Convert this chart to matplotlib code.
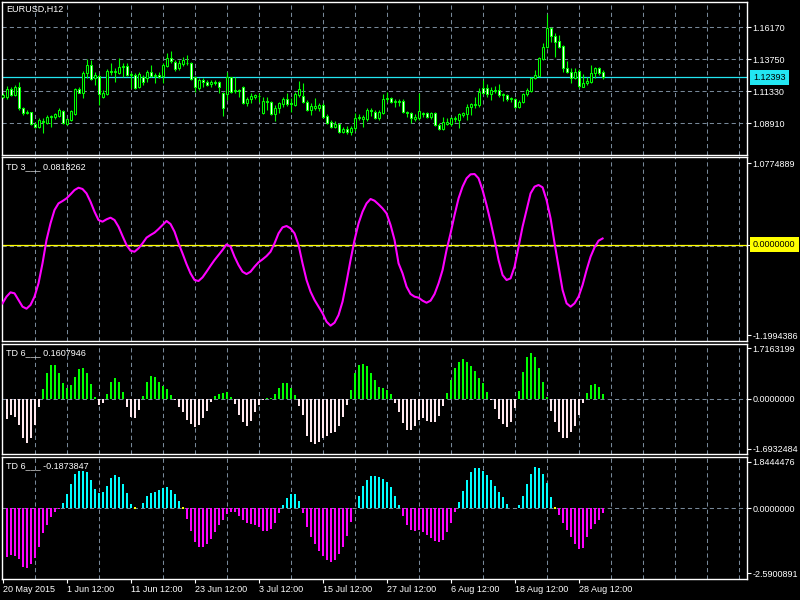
import numpy as np
import matplotlib
matplotlib.use('Agg')
import matplotlib.pyplot as plt

plt.rcParams['font.family'] = ['Liberation Sans', 'DejaVu Sans']

# ---------------- data ----------------
symbol_label = "EURUSD,H12"
td3_label = "TD 3___ 0.0818262"
td6a_label = "TD 6___ 0.1607946"
td6b_label = "TD 6___ -0.1873847"

open_ = np.array([
    1.1093, 1.1093, 1.1148, 1.1105, 1.1163, 1.1005, 1.0967, 1.0974, 1.0884, 1.0861,
    1.0911, 1.0896, 1.0936, 1.0942, 1.0947, 1.0984, 1.0886, 1.0916, 1.0959, 1.1148,
    1.1123, 1.1269, 1.1332, 1.1231, 1.1249, 1.1088, 1.1110, 1.1287, 1.1282, 1.1274,
    1.1314, 1.1325, 1.1257, 1.1254, 1.1163, 1.1239, 1.1231, 1.1282, 1.1249, 1.1257,
    1.1249, 1.1327, 1.1383, 1.1357, 1.1307, 1.1337, 1.1350, 1.1345, 1.1239, 1.1156,
    1.1219, 1.1206, 1.1186, 1.1206, 1.1206, 1.1118, 1.1113, 1.1239, 1.1138, 1.1143,
    1.1168, 1.1047, 1.1075, 1.1093, 1.1100, 1.0967, 1.1060, 1.1050, 1.0959, 1.1005,
    1.1037, 1.1075, 1.1042, 1.1030, 1.1105, 1.1098, 1.1055, 1.0992, 1.1005, 1.1005,
    1.1030, 1.0947, 1.0901, 1.0866, 1.0889, 1.0828, 1.0846, 1.0823, 1.0853, 1.0929,
    1.0921, 1.0921, 1.0992, 1.0979, 1.0934, 1.0972, 1.1073, 1.1080, 1.1055, 1.1060,
    1.1060, 1.0979, 1.0967, 1.0926, 1.0929, 1.0962, 1.0972, 1.0936, 1.0967, 1.0879,
    1.0851, 1.0886, 1.0886, 1.0924, 1.0916, 1.0954, 1.0959, 1.1012, 1.1030, 1.1030,
    1.1156, 1.1156, 1.1113, 1.1138, 1.1143, 1.1103, 1.1105, 1.1075, 1.1075, 1.1017,
    1.1050, 1.1110, 1.1138, 1.1231, 1.1249, 1.1375, 1.1466, 1.1614, 1.1551, 1.1514,
    1.1476, 1.1307, 1.1282, 1.1236, 1.1287, 1.1168, 1.1194, 1.1206, 1.1269, 1.1312,
    1.1282])

high = np.array([
    1.1118, 1.1173, 1.1163, 1.1181, 1.1206, 1.1017, 1.0992, 1.0979, 1.0904, 1.0929,
    1.0929, 1.0954, 1.0954, 1.0972, 1.1005, 1.0992, 1.0929, 1.0992, 1.1156, 1.1163,
    1.1287, 1.1375, 1.1370, 1.1282, 1.1264, 1.1143, 1.1299, 1.1350, 1.1307, 1.1383,
    1.1345, 1.1345, 1.1282, 1.1269, 1.1282, 1.1257, 1.1294, 1.1332, 1.1269, 1.1282,
    1.1345, 1.1420, 1.1438, 1.1370, 1.1370, 1.1395, 1.1408, 1.1352, 1.1249, 1.1231,
    1.1231, 1.1219, 1.1219, 1.1219, 1.1214, 1.1131, 1.1282, 1.1244, 1.1239, 1.1151,
    1.1173, 1.1088, 1.1118, 1.1110, 1.1118, 1.1093, 1.1088, 1.1060, 1.1030, 1.1055,
    1.1093, 1.1118, 1.1080, 1.1131, 1.1211, 1.1194, 1.1068, 1.1047, 1.1085, 1.1042,
    1.1042, 1.0962, 1.0916, 1.0911, 1.0896, 1.0866, 1.0871, 1.0871, 1.0967, 1.0959,
    1.0954, 1.1005, 1.1010, 1.0992, 1.0992, 1.1110, 1.1125, 1.1093, 1.1075, 1.1075,
    1.1075, 1.0984, 1.0979, 1.0959, 1.1118, 1.0979, 1.0979, 1.0979, 1.0979, 1.0891,
    1.0936, 1.0929, 1.0942, 1.0947, 1.0972, 1.0979, 1.1037, 1.1047, 1.1088, 1.1156,
    1.1219, 1.1186, 1.1163, 1.1173, 1.1188, 1.1118, 1.1110, 1.1088, 1.1085, 1.1068,
    1.1123, 1.1156, 1.1244, 1.1294, 1.1390, 1.1501, 1.1718, 1.1622, 1.1572, 1.1559,
    1.1483, 1.1362, 1.1307, 1.1307, 1.1299, 1.1264, 1.1244, 1.1332, 1.1320, 1.1320,
    1.1294])

low = np.array([
    1.1080, 1.1073, 1.1098, 1.1098, 1.0992, 1.0954, 1.0962, 1.0879, 1.0858, 1.0853,
    1.0816, 1.0886, 1.0861, 1.0921, 1.0936, 1.0886, 1.0879, 1.0911, 1.0954, 1.1118,
    1.1080, 1.1231, 1.1219, 1.1181, 1.1030, 1.1080, 1.1105, 1.1257, 1.1206, 1.1264,
    1.1244, 1.1249, 1.1156, 1.1148, 1.1156, 1.1181, 1.1206, 1.1244, 1.1194, 1.1231,
    1.1194, 1.1320, 1.1345, 1.1289, 1.1294, 1.1327, 1.1332, 1.1219, 1.1131, 1.1143,
    1.1163, 1.1176, 1.1163, 1.1181, 1.1123, 1.0949, 1.1068, 1.1118, 1.1118, 1.1093,
    1.1037, 1.1022, 1.1042, 1.1073, 1.1055, 1.0962, 1.0992, 1.0954, 1.0911, 1.0967,
    1.1012, 1.1022, 1.0977, 1.1022, 1.1093, 1.1042, 1.0984, 1.0954, 1.0992, 1.0987,
    1.0929, 1.0886, 1.0853, 1.0853, 1.0816, 1.0816, 1.0810, 1.0803, 1.0836, 1.0916,
    1.0866, 1.0911, 1.0947, 1.0921, 1.0916, 1.0962, 1.1055, 1.1042, 1.1017, 1.1022,
    1.0972, 1.0936, 1.0891, 1.0911, 1.0916, 1.0942, 1.0929, 1.0921, 1.0871, 1.0841,
    1.0841, 1.0879, 1.0871, 1.0904, 1.0853, 1.0942, 1.0916, 1.0954, 1.1005, 1.1017,
    1.1113, 1.1093, 1.1068, 1.1118, 1.1093, 1.1062, 1.1060, 1.1050, 1.1010, 1.1005,
    1.1042, 1.1098, 1.1131, 1.1224, 1.1239, 1.1370, 1.1458, 1.1509, 1.1390, 1.1458,
    1.1282, 1.1269, 1.1199, 1.1226, 1.1156, 1.1163, 1.1181, 1.1199, 1.1231, 1.1257,
    1.1224])

close = np.array([
    1.1105, 1.1148, 1.1105, 1.1163, 1.1005, 1.0967, 1.0977, 1.0884, 1.0866, 1.0916,
    1.0901, 1.0942, 1.0947, 1.0959, 1.0992, 1.0891, 1.0921, 1.0987, 1.1148, 1.1123,
    1.1269, 1.1332, 1.1224, 1.1254, 1.1110, 1.1118, 1.1287, 1.1277, 1.1287, 1.1320,
    1.1325, 1.1257, 1.1264, 1.1161, 1.1264, 1.1206, 1.1282, 1.1249, 1.1257, 1.1239,
    1.1332, 1.1383, 1.1362, 1.1302, 1.1350, 1.1370, 1.1345, 1.1226, 1.1163, 1.1219,
    1.1201, 1.1181, 1.1206, 1.1199, 1.1168, 1.1005, 1.1239, 1.1131, 1.1143, 1.1138,
    1.1047, 1.1075, 1.1100, 1.1103, 1.1098, 1.1060, 1.1052, 1.0959, 1.1005, 1.1042,
    1.1075, 1.1037, 1.1037, 1.1110, 1.1148, 1.1055, 1.0992, 1.1022, 1.1022, 1.1030,
    1.0942, 1.0896, 1.0866, 1.0886, 1.0823, 1.0846, 1.0823, 1.0858, 1.0929, 1.0942,
    1.0942, 1.0992, 1.0984, 1.0929, 1.0979, 1.1073, 1.1080, 1.1055, 1.1060, 1.1055,
    1.0979, 1.0967, 1.0929, 1.0942, 1.0984, 1.0967, 1.0936, 1.0972, 1.0876, 1.0848,
    1.0899, 1.0899, 1.0929, 1.0929, 1.0959, 1.0967, 1.1017, 1.1037, 1.1037, 1.1131,
    1.1123, 1.1113, 1.1143, 1.1143, 1.1105, 1.1110, 1.1075, 1.1080, 1.1017, 1.1050,
    1.1110, 1.1143, 1.1231, 1.1257, 1.1383, 1.1471, 1.1609, 1.1551, 1.1509, 1.1471,
    1.1307, 1.1277, 1.1236, 1.1282, 1.1173, 1.1199, 1.1214, 1.1274, 1.1307, 1.1274,
    1.12393])

price_ticks = [1.08910, 1.11330, 1.13750, 1.16170]
last_price = 1.12393

td3 = np.array([
    -0.775, -0.687, -0.630, -0.643, -0.731, -0.819, -0.846, -0.797, -0.687, -0.511,
    -0.247, 0.062, 0.282, 0.458, 0.546, 0.577, 0.612, 0.665, 0.722, 0.753,
    0.736, 0.678, 0.568, 0.436, 0.326, 0.304, 0.335, 0.357, 0.326, 0.238,
    0.115, -0.004, -0.079, -0.093, -0.048, 0.018, 0.093, 0.128, 0.159, 0.207,
    0.260, 0.313, 0.273, 0.172, 0.018, -0.115, -0.256, -0.379, -0.467, -0.480,
    -0.432, -0.357, -0.278, -0.203, -0.137, -0.070, 0.004, -0.026, -0.159, -0.269,
    -0.357, -0.388, -0.357, -0.291, -0.233, -0.194, -0.150, -0.093, 0.018, 0.150,
    0.229, 0.247, 0.216, 0.150, -0.004, -0.247, -0.467, -0.621, -0.731, -0.819,
    -0.907, -1.018, -1.070, -1.031, -0.930, -0.753, -0.489, -0.203, 0.062, 0.282,
    0.436, 0.546, 0.604, 0.581, 0.533, 0.480, 0.414, 0.260, 0.062, -0.247,
    -0.379, -0.555, -0.652, -0.687, -0.700, -0.740, -0.767, -0.740, -0.652, -0.511,
    -0.335, -0.070, 0.150, 0.392, 0.612, 0.767, 0.877, 0.930, 0.934, 0.877,
    0.722, 0.524, 0.304, 0.062, -0.203, -0.401, -0.467, -0.445, -0.291, -0.026,
    0.238, 0.458, 0.678, 0.767, 0.789, 0.758, 0.590, 0.348, 0.018, -0.291,
    -0.599, -0.775, -0.819, -0.775, -0.687, -0.533, -0.335, -0.159, -0.035, 0.053,
    0.0818262])
td3_ticks = [-1.1994386, 0.0, 1.0774889]

# histograms start at bar 1
td6a = np.array([
    -0.702, -0.555, -0.611, -0.894, -1.324, -1.494, -1.324, -0.894, -0.272, 0.317,
    0.883, 1.143, 1.143, 0.860, 0.521, 0.373, 0.464, 0.747, 1.007, 1.030,
    0.860, 0.498, 0.068, -0.215, -0.158, 0.147, 0.555, 0.713, 0.577, 0.215,
    -0.272, -0.611, -0.645, -0.385, 0.091, 0.577, 0.770, 0.747, 0.577, 0.430,
    0.328, 0.125, -0.057, -0.272, -0.441, -0.724, -0.871, -0.951, -0.894, -0.668,
    -0.419, -0.102, 0.091, 0.158, 0.181, 0.215, 0.068, -0.192, -0.555, -0.804,
    -0.917, -0.758, -0.441, -0.215, -0.057, 0.034, 0.034, 0.147, 0.373, 0.521,
    0.521, 0.373, 0.125, -0.238, -0.555, -1.256, -1.460, -1.551, -1.460, -1.347,
    -1.256, -1.177, -1.120, -0.917, -0.611, -0.215, 0.294, 0.860, 1.143, 1.166,
    1.109, 0.860, 0.634, 0.407, 0.351, 0.294, 0.147, -0.136, -0.464, -0.838,
    -1.064, -1.064, -0.917, -0.724, -0.668, -0.758, -0.804, -0.781, -0.577, -0.238,
    0.204, 0.634, 1.030, 1.256, 1.347, 1.256, 1.109, 0.939, 0.690, 0.521,
    0.215, -0.057, -0.351, -0.690, -0.871, -0.951, -0.804, -0.306, 0.260, 0.917,
    1.426, 1.539, 1.403, 1.030, 0.566, 0.068, -0.419, -0.804, -1.120, -1.324,
    -1.347, -1.120, -0.917, -0.555, -0.158, 0.204, 0.464, 0.487, 0.385, 0.1607946])
td6a_ticks = [-1.6932484, 0.0, 1.7163199]

td6b = np.array([
    -1.924, -1.858, -1.884, -2.030, -2.322, -2.389, -2.229, -1.990, -1.526, -0.995,
    -0.663, -0.332, -0.133, -0.020, 0.226, 0.557, 0.969, 1.367, 1.486, 1.486,
    1.446, 1.128, 0.756, 0.597, 0.637, 0.889, 1.194, 1.327, 1.261, 0.969,
    0.597, 0.173, 0.0, 0.0, 0.226, 0.491, 0.597, 0.637, 0.730, 0.796,
    0.863, 0.730, 0.557, 0.292, 0.0, -0.425, -0.889, -1.327, -1.526, -1.526,
    -1.420, -1.221, -0.929, -0.663, -0.464, -0.226, -0.133, -0.159, -0.305, -0.464,
    -0.571, -0.624, -0.663, -0.756, -0.889, -0.889, -0.823, -0.571, -0.199, 0.133,
    0.425, 0.557, 0.557, 0.292, -0.199, -0.730, -1.155, -1.420, -1.685, -1.898,
    -2.057, -2.123, -2.057, -1.831, -1.526, -1.088, -0.531, 0.020, 0.491, 0.889,
    1.128, 1.300, 1.300, 1.261, 1.155, 1.062, 0.836, 0.491, 0.133, -0.292,
    -0.663, -0.863, -0.902, -0.863, -0.929, -1.062, -1.194, -1.287, -1.354, -1.261,
    -0.929, -0.571, -0.133, 0.239, 0.690, 1.128, 1.433, 1.592, 1.592, 1.499,
    1.327, 1.128, 0.902, 0.663, 0.438, 0.173, 0.0, 0.0, 0.133, 0.491,
    0.955, 1.353, 1.632, 1.592, 1.353, 0.995, 0.464, 0.0, -0.265, -0.597,
    -0.863, -1.155, -1.420, -1.619, -1.566, -1.128, -0.823, -0.624, -0.464, -0.1873847])
td6b_ticks = [-2.5900891, 0.0, 1.8444476]
td6b_flat_bars = [33, 45, 138]

date_labels = ["20 May 2015", "1 Jun 12:00", "11 Jun 12:00", "23 Jun 12:00",
               "3 Jul 12:00", "15 Jul 12:00", "27 Jul 12:00", "6 Aug 12:00",
               "18 Aug 12:00", "28 Aug 12:00"]
date_label_bars = [0, 16, 32, 48, 64, 80, 96, 112, 128, 144]

# ---------------- styling ----------------
BG = 'black'
FG = 'white'
GRID = '#778899'
LIME = '#00FF00'
CYAN = '#22E6F2'
MAG = '#FF00FF'
YEL = '#FFFF00'
DASH = (0, (4, 3))
FS = 6.5

W, H = 800, 600
fig = plt.figure(figsize=(8, 6), dpi=100, facecolor=BG)


def rect(top, bottom, left=2, right=747):
    return [left / W, 1 - bottom / H, (right - left) / W, (bottom - top) / H]


ax1 = fig.add_axes(rect(2, 155))
ax2 = fig.add_axes(rect(157, 341))
ax3 = fig.add_axes(rect(344, 454))
ax4 = fig.add_axes(rect(457, 579))
axes = [ax1, ax2, ax3, ax4]

XMIN, XMAX = -0.125, 186.1
for ax in axes:
    ax.set_facecolor(BG)
    ax.set_xlim(XMIN, XMAX)
    for s in ax.spines.values():
        s.set_color(FG)
        s.set_linewidth(1.0)
    ax.set_xticks([])
    ax.set_xticks(np.arange(8, 186, 8), minor=True)
    ax.grid(which='minor', axis='x', color=GRID, linestyle=DASH, linewidth=0.75)
    ax.tick_params(axis='x', which='minor', length=0)
    ax.yaxis.tick_right()
    ax.tick_params(axis='y', which='major', colors=FG, labelcolor=FG,
                   labelsize=FS, length=2.9, width=0.8, pad=1.0, direction='out')


def title(ax, text, dy):
    ax.annotate(text, xy=(0, 1), xycoords='axes fraction', xytext=(4.5, -dy),
                textcoords='offset pixels', color=FG, fontsize=FS,
                ha='left', va='center')


def boxed(ax, y, text, color):
    ax.annotate(text, xy=(1, y), xycoords=('axes fraction', 'data'),
                xytext=(6, 0), textcoords='offset pixels', ha='left', va='center',
                fontsize=FS, color='black', annotation_clip=False,
                bbox=dict(boxstyle='square,pad=0.35', fc=color, ec='none'))


# ---- panel 1: candles ----
n = len(close)
x = np.arange(n)
for p in price_ticks:
    ax1.axhline(p, color=GRID, linestyle=DASH, linewidth=0.75, zorder=1)
ax1.axhline(last_price, color=CYAN, linewidth=0.9, zorder=1.5)
ax1.vlines(x, low, high, color=LIME, linewidth=0.8, zorder=2)
up = close >= open_
ax1.bar(x, np.abs(close - open_), bottom=np.minimum(open_, close), width=0.5,
        color=np.where(up, 'black', 'white'), edgecolor=LIME, linewidth=0.75, zorder=3)
ax1.set_ylim(1.06517, 1.18084)
ax1.set_yticks(price_ticks)
ax1.set_yticklabels([f"{p:.5f}" for p in price_ticks])
boxed(ax1, last_price, f"{last_price:.5f}", CYAN)
title(ax1, symbol_label, 7)

# ---- panel 2: TD 3 line ----
ax2.axhline(-0.013, color=GRID, linestyle=DASH, linewidth=0.75, zorder=1)
ax2.axhline(0, color=YEL, linewidth=0.9, zorder=2)
ax2.plot(x, td3, color=MAG, linewidth=1.5, zorder=3)
ax2.set_ylim(-1.273, 1.159)
ax2.set_yticks(td3_ticks)
ax2.set_yticklabels([f"{td3_ticks[0]:.7f}", "", f"{td3_ticks[2]:.7f}"])
boxed(ax2, 0.0, "0.0000000", YEL)
title(ax2, td3_label, 9.5)

# ---- panel 3: TD 6 histogram (green / white) ----
xh = np.arange(1, len(td6a) + 1)
ax3.axhline(0, color=GRID, linestyle=DASH, linewidth=0.75, zorder=1)
ax3.bar(xh, td6a, width=0.5, color=np.where(td6a >= 0, LIME, '#FFE8EE'), zorder=3)
ax3.set_ylim(-1.878, 1.857)
ax3.set_yticks(td6a_ticks)
ax3.set_yticklabels([f"{v:.7f}" for v in td6a_ticks])
title(ax3, td6a_label, 8.3)

# ---- panel 4: TD 6 histogram (cyan / magenta) ----
xh2 = np.arange(1, len(td6b) + 1)
ax4.axhline(0, color=GRID, linestyle=DASH, linewidth=0.75, zorder=1)
ax4.bar(xh2, td6b, width=0.5, color=np.where(td6b >= 0, '#00FFFF', MAG), zorder=3)
ax4.plot(td6b_flat_bars, [0.0] * len(td6b_flat_bars), linestyle='none', marker='s',
         markersize=1.6, color=YEL, markeredgewidth=0, zorder=4)
ax4.set_ylim(-2.815, 2.042)
ax4.set_yticks(td6b_ticks)
ax4.set_yticklabels([f"{v:.7f}" for v in td6b_ticks])
title(ax4, td6b_label, 9)

ax4.set_xticks(date_label_bars)
ax4.set_xticklabels(date_labels)
ax4.tick_params(axis='x', which='major', colors=FG, labelcolor=FG, labelsize=FS,
                length=3, width=0.8, pad=1.5, direction='out')
for lbl in ax4.get_xticklabels():
    lbl.set_ha('left')

fig.savefig('out.png', dpi=100, facecolor=BG)
